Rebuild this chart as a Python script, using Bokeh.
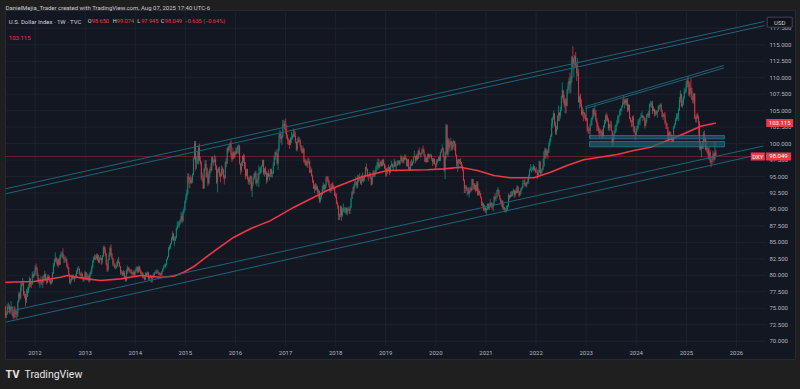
import pandas as pd
from bokeh.plotting import figure
from bokeh.models import Range1d
from bokeh.core.properties import value
from bokeh.embed import file_html
from bokeh.resources import INLINE

# ---------------- DATA: weekly DXY candles (week starting Monday), 2011-05-30 .. 2025-08-04
c2011 = [73.9, 74.2, 75.2, 75.3, 74.4, 75.0, 75.2, 74.2, 73.7, 74.7, 74.6, 74.1, 74.3, 76.0, 77.2, 76.6, 78.2, 78.6, 78.8, 77.1, 76.9, 76.2, 76.8, 77.6, 78.2, 79.5, 78.7, 78.6, 80.1, 79.9, 80.2]
h2011 = [75.2, 74.5, 75.6, 75.9, 75.6, 75.3, 76.1, 75.3, 74.4, 75.3, 75.3, 74.8, 74.6, 76.2, 77.5, 77.5, 78.9, 79.0, 79.6, 78.9, 77.6, 77.2, 77.9, 78.2, 78.7, 79.8, 79.6, 79.1, 80.6, 80.3, 80.7]
l2011 = [73.5, 73.5, 74.0, 74.9, 74.2, 74.1, 74.8, 73.9, 73.4, 73.3, 73.6, 73.5, 73.4, 73.7, 75.9, 76.2, 76.4, 77.6, 78.4, 76.9, 76.5, 75.3, 75.8, 76.7, 77.3, 78.0, 78.2, 78.1, 78.7, 79.6, 79.7]

c2012 = [81.2, 81.1, 80.1, 79.1, 79.0, 79.0, 79.1, 78.9, 79.8, 79.7, 80.2, 79.5, 78.9, 79.8, 79.6, 79.2, 78.8, 79.0, 80.3, 81.5, 82.2, 82.6, 82.1, 81.6, 82.3, 81.6, 82.9, 83.2, 83.3, 82.7, 82.4, 82.5, 82.5, 81.4, 81.2, 80.1, 78.9, 79.3, 79.9, 79.6, 79.7, 79.6, 79.9, 80.6, 81.0, 81.0, 80.2, 80.1, 80.2, 79.6, 79.4, 79.6, 80.5]
h2012 = [81.5, 81.8, 81.3, 80.3, 79.6, 79.5, 79.9, 79.4, 79.9, 80.1, 80.7, 80.3, 79.7, 80.1, 80.1, 79.9, 79.4, 79.4, 80.5, 81.9, 82.5, 83.5, 82.8, 82.5, 82.6, 82.7, 83.2, 83.6, 83.6, 84.1, 83.1, 82.8, 82.9, 82.5, 81.8, 81.3, 80.2, 79.5, 80.1, 80.1, 80.1, 79.8, 80.2, 80.8, 81.2, 81.4, 81.1, 80.4, 80.6, 80.4, 79.8, 79.8, 80.7]
l2012 = [80.0, 80.8, 79.9, 78.9, 78.6, 78.1, 78.6, 78.5, 78.1, 78.9, 79.4, 79.2, 78.6, 78.8, 79.2, 78.9, 78.6, 78.6, 78.9, 80.2, 81.3, 82.0, 81.8, 81.4, 81.2, 81.5, 81.8, 82.6, 82.8, 82.5, 81.9, 81.9, 82.1, 81.2, 80.9, 79.9, 78.7, 78.6, 79.0, 79.3, 79.4, 79.0, 79.4, 79.8, 80.2, 80.8, 80.1, 79.9, 79.6, 79.4, 79.0, 79.1, 79.3]

c2013 = [79.6, 79.7, 79.9, 79.1, 80.2, 80.5, 81.3, 82.2, 82.7, 82.5, 82.6, 83.0, 82.5, 82.0, 82.5, 82.6, 82.3, 82.9, 84.2, 83.9, 83.2, 81.7, 80.8, 82.3, 83.1, 84.2, 83.2, 82.6, 81.7, 81.7, 81.2, 81.2, 81.4, 82.2, 82.0, 81.4, 80.4, 80.4, 80.2, 80.4, 79.7, 79.2, 80.7, 81.1, 80.9, 80.7, 80.7, 80.3, 80.2, 80.5, 80.0, 80.7]
h2013 = [80.4, 80.3, 80.2, 80.0, 80.5, 80.8, 81.5, 82.3, 82.9, 83.2, 83.1, 83.3, 83.3, 83.1, 82.8, 83.1, 82.7, 83.1, 84.5, 84.5, 84.3, 83.4, 81.8, 82.5, 83.5, 84.4, 84.7, 83.4, 82.7, 82.4, 81.9, 81.6, 82.1, 82.5, 82.8, 82.0, 81.4, 80.8, 80.6, 80.8, 80.7, 79.9, 80.9, 81.5, 81.3, 81.2, 80.9, 81.0, 80.5, 80.8, 80.6, 80.9]
l2013 = [79.4, 79.2, 79.3, 78.9, 79.2, 79.9, 80.2, 81.0, 81.9, 82.3, 82.3, 82.4, 82.2, 81.9, 81.8, 82.3, 81.6, 81.8, 82.8, 83.4, 82.9, 81.5, 80.5, 80.6, 82.3, 82.8, 82.9, 82.4, 81.4, 81.3, 81.0, 80.9, 81.1, 81.3, 81.8, 81.2, 80.1, 80.1, 79.9, 79.9, 79.5, 79.0, 79.1, 80.2, 80.6, 80.4, 80.4, 80.2, 79.8, 80.0, 79.9, 79.8]

c2014 = [80.7, 81.2, 80.5, 81.3, 80.7, 80.3, 80.2, 79.7, 79.7, 79.4, 80.3, 80.1, 80.4, 79.5, 79.9, 79.8, 79.5, 79.6, 80.0, 80.4, 80.4, 80.5, 80.6, 80.4, 80.1, 80.3, 80.1, 80.6, 81.0, 81.4, 81.4, 81.6, 82.4, 82.8, 84.1, 84.3, 84.8, 85.6, 86.3, 85.3, 85.3, 85.7, 87.1, 87.6, 87.6, 88.0, 88.4, 89.0, 88.3, 89.6, 90.0, 91.2]
h2014 = [81.2, 81.4, 81.3, 81.5, 81.4, 80.9, 80.6, 80.5, 80.3, 79.8, 80.5, 80.4, 80.6, 80.5, 80.0, 80.1, 80.0, 79.9, 80.3, 80.5, 80.7, 80.9, 80.9, 80.8, 80.5, 80.4, 80.4, 80.7, 81.1, 81.6, 81.8, 81.8, 82.5, 82.9, 84.3, 84.6, 84.9, 85.8, 86.7, 86.4, 85.9, 86.0, 87.3, 88.2, 88.2, 88.3, 88.5, 89.6, 89.4, 89.9, 90.3, 91.4]
l2014 = [80.3, 80.6, 80.3, 80.4, 80.6, 80.2, 79.9, 79.6, 79.5, 79.2, 79.3, 79.8, 80.0, 79.3, 79.3, 79.6, 78.9, 78.9, 79.6, 79.9, 80.2, 80.2, 80.3, 80.2, 80.0, 79.9, 79.9, 80.0, 80.5, 80.9, 81.2, 81.1, 81.5, 82.3, 82.7, 83.8, 84.0, 84.7, 85.3, 85.2, 84.5, 85.2, 85.6, 86.9, 87.3, 87.2, 87.7, 88.2, 87.9, 88.1, 89.4, 89.8]

c2015 = [91.9, 92.5, 95.0, 94.8, 94.6, 94.1, 94.4, 95.3, 97.7, 100.0, 97.3, 97.3, 97.4, 99.4, 97.5, 97.0, 94.8, 94.8, 93.2, 96.2, 96.9, 96.3, 94.9, 94.0, 95.4, 96.1, 96.0, 97.9, 97.2, 97.3, 97.6, 96.6, 94.1, 95.9, 96.2, 95.2, 95.1, 96.2, 96.0, 95.0, 94.8, 97.1, 97.0, 99.3, 99.0, 99.6, 100.0, 98.4, 97.6, 98.7, 98.0, 98.7]
h2015 = [92.3, 93.0, 95.5, 95.5, 94.9, 95.2, 94.9, 95.5, 97.9, 100.4, 100.4, 98.0, 98.7, 99.8, 100.0, 98.0, 97.3, 95.6, 95.2, 96.3, 97.5, 97.5, 96.4, 95.6, 95.9, 96.4, 97.0, 98.0, 98.1, 97.6, 98.3, 98.0, 96.7, 96.2, 96.4, 96.5, 95.6, 96.7, 96.5, 96.2, 95.2, 97.3, 97.8, 99.4, 99.6, 99.9, 100.2, 100.5, 98.6, 99.4, 98.8, 98.9]
l2015 = [90.9, 91.5, 92.2, 94.0, 93.2, 93.9, 93.9, 94.0, 95.2, 97.6, 95.9, 96.2, 96.9, 96.8, 97.3, 96.8, 94.5, 94.2, 93.1, 93.2, 95.9, 94.9, 94.7, 93.5, 93.8, 94.8, 95.6, 95.8, 96.9, 96.6, 97.1, 96.0, 93.9, 92.6, 95.6, 94.9, 94.1, 95.0, 95.3, 94.7, 93.8, 94.6, 96.4, 96.9, 98.6, 98.8, 99.3, 97.9, 97.2, 97.6, 97.7, 97.8]

c2016 = [98.5, 99.0, 99.6, 99.6, 97.0, 96.0, 96.6, 98.1, 97.4, 96.2, 95.1, 96.1, 94.6, 94.2, 94.7, 95.1, 93.1, 93.9, 94.6, 95.3, 95.5, 94.0, 94.5, 94.6, 95.5, 95.6, 96.3, 96.6, 97.5, 95.5, 96.2, 95.7, 94.5, 95.5, 95.1, 95.3, 96.1, 95.4, 95.4, 96.6, 98.0, 98.7, 98.4, 97.0, 99.0, 101.2, 101.5, 100.7, 101.0, 103.0, 103.0, 102.2]
h2016 = [99.4, 99.4, 99.8, 99.9, 99.8, 97.0, 97.3, 98.2, 98.5, 98.3, 97.2, 96.2, 96.2, 95.0, 94.9, 95.2, 95.0, 94.1, 94.9, 95.5, 95.8, 95.9, 94.6, 95.5, 96.7, 96.4, 96.5, 96.8, 97.6, 97.5, 96.3, 96.5, 95.8, 95.6, 96.1, 95.5, 96.2, 96.2, 95.8, 97.2, 98.2, 98.8, 99.1, 98.4, 99.3, 101.5, 102.1, 101.8, 101.2, 103.6, 103.6, 103.4]
l2016 = [98.2, 98.5, 98.5, 98.4, 96.8, 95.3, 95.7, 96.6, 97.1, 96.1, 94.6, 95.0, 94.5, 93.8, 93.7, 93.9, 92.8, 91.9, 93.6, 94.5, 94.9, 93.8, 93.5, 94.0, 93.4, 95.3, 95.4, 95.6, 96.5, 95.2, 95.0, 95.3, 93.9, 94.2, 94.9, 94.4, 94.9, 94.9, 94.8, 95.5, 96.6, 97.5, 98.2, 96.8, 96.0, 98.8, 100.8, 100.1, 99.8, 100.9, 102.5, 102.1]

c2017 = [102.0, 101.2, 100.6, 100.5, 99.8, 100.8, 100.9, 101.1, 101.4, 101.2, 100.3, 99.1, 100.3, 100.6, 100.5, 99.8, 99.0, 98.6, 99.2, 97.2, 97.4, 96.7, 97.3, 97.1, 97.3, 95.6, 96.0, 95.1, 94.3, 93.2, 93.5, 93.1, 93.4, 92.7, 92.8, 91.3, 91.9, 92.2, 93.1, 93.7, 93.1, 93.7, 94.9, 94.8, 94.4, 93.7, 92.8, 93.1, 93.9, 93.4, 93.3, 92.1]
h2017 = [103.8, 102.9, 101.4, 100.8, 100.6, 101.0, 101.8, 101.5, 102.3, 102.2, 101.8, 100.3, 100.8, 101.1, 101.0, 100.7, 99.8, 99.4, 99.7, 99.3, 97.7, 97.6, 97.4, 97.9, 97.8, 97.4, 96.5, 96.2, 95.3, 94.5, 93.8, 94.0, 93.9, 93.6, 93.1, 92.9, 92.3, 92.6, 93.6, 94.1, 93.8, 93.9, 95.0, 95.1, 95.1, 94.5, 93.9, 93.5, 94.0, 94.2, 93.7, 93.2]
l2017 = [101.4, 100.7, 99.9, 99.8, 99.2, 99.9, 100.1, 100.6, 100.9, 101.0, 100.1, 98.9, 98.8, 100.1, 100.2, 99.4, 98.8, 98.5, 98.6, 97.1, 96.8, 96.6, 96.5, 96.3, 96.9, 95.5, 95.6, 95.0, 94.0, 93.1, 92.5, 92.9, 92.9, 92.4, 91.6, 91.0, 91.0, 91.5, 92.4, 92.9, 92.8, 92.9, 93.3, 94.2, 94.0, 93.4, 92.6, 92.5, 92.8, 93.1, 92.9, 92.0]

c2018 = [91.9, 90.9, 90.6, 89.1, 89.2, 90.4, 89.1, 89.9, 90.1, 90.1, 90.2, 89.5, 90.1, 90.1, 89.8, 90.3, 91.6, 92.6, 92.5, 93.6, 94.2, 94.2, 93.6, 94.8, 94.5, 94.5, 94.0, 94.7, 94.4, 94.7, 95.1, 96.4, 96.1, 95.2, 95.1, 95.4, 94.9, 93.8, 95.1, 95.6, 95.2, 95.7, 96.4, 96.5, 97.0, 96.5, 96.8, 97.2, 96.6, 97.5, 96.9, 96.3, 95.8]
h2018 = [92.6, 92.4, 91.2, 90.6, 89.4, 90.6, 90.5, 90.2, 90.9, 90.3, 90.4, 90.3, 90.2, 90.5, 90.1, 90.5, 91.8, 92.8, 93.4, 93.9, 94.4, 95.0, 94.2, 95.3, 95.2, 95.5, 94.9, 95.2, 95.6, 95.0, 95.3, 96.5, 97.0, 96.2, 95.3, 95.7, 95.6, 94.9, 95.2, 96.0, 95.9, 96.0, 96.7, 97.2, 97.7, 97.7, 97.2, 97.4, 97.5, 97.7, 97.7, 97.0, 96.7]
l2018 = [91.7, 90.8, 90.1, 88.4, 88.4, 88.8, 88.3, 88.9, 89.6, 89.5, 89.4, 89.2, 89.1, 89.8, 89.3, 89.3, 90.2, 91.6, 92.2, 92.4, 93.2, 93.7, 93.2, 93.2, 94.1, 94.3, 93.8, 93.7, 94.2, 94.1, 94.3, 95.1, 95.9, 94.9, 94.3, 94.9, 94.6, 93.6, 93.8, 94.9, 94.9, 94.9, 95.6, 96.0, 96.0, 96.3, 96.2, 96.6, 96.5, 96.7, 96.7, 96.1, 95.0]

c2019 = [95.6, 96.1, 96.4, 95.6, 96.6, 96.9, 96.5, 96.5, 97.3, 96.6, 96.6, 97.3, 97.4, 96.9, 97.4, 98.0, 97.5, 97.3, 98.0, 97.6, 97.8, 96.6, 97.6, 96.2, 96.1, 96.9, 96.8, 97.2, 98.0, 98.1, 97.5, 98.1, 97.7, 98.9, 98.4, 98.3, 98.5, 99.1, 98.8, 98.3, 97.3, 97.8, 97.2, 98.4, 98.0, 98.3, 98.3, 97.7, 97.2, 97.7, 96.9, 96.8]
h2019 = [96.3, 96.4, 96.8, 96.5, 96.7, 97.4, 97.0, 96.8, 97.7, 97.4, 96.8, 97.4, 97.5, 97.4, 97.5, 98.3, 98.1, 97.8, 98.0, 98.4, 98.3, 97.8, 97.6, 97.7, 96.5, 97.3, 97.6, 97.3, 98.0, 98.9, 98.0, 98.4, 98.5, 99.0, 99.4, 98.6, 98.7, 99.3, 99.7, 99.2, 98.4, 98.0, 97.9, 98.5, 98.5, 98.4, 98.5, 98.3, 97.8, 97.8, 97.7, 97.0]
l2019 = [95.0, 95.4, 95.8, 95.2, 95.5, 96.4, 96.3, 95.8, 96.4, 96.4, 95.7, 96.6, 96.8, 96.7, 96.7, 97.3, 97.1, 97.0, 97.0, 97.5, 97.5, 96.5, 96.5, 96.0, 95.8, 95.9, 96.6, 96.6, 97.0, 97.9, 97.0, 97.3, 97.5, 97.8, 98.3, 97.9, 97.9, 98.4, 98.7, 98.1, 97.2, 97.1, 97.1, 97.2, 97.8, 97.7, 98.0, 97.4, 96.6, 96.9, 96.8, 96.1]

c2020 = [97.3, 97.6, 97.9, 97.4, 98.7, 99.1, 99.3, 98.1, 96.0, 98.7, 102.8, 98.4, 100.6, 99.5, 99.8, 100.4, 99.1, 99.7, 100.4, 99.9, 98.3, 96.9, 97.3, 97.6, 97.4, 97.2, 96.6, 96.0, 94.4, 93.3, 93.4, 93.1, 93.2, 92.4, 92.7, 93.3, 92.9, 94.6, 93.9, 93.1, 93.7, 92.8, 94.0, 92.2, 92.8, 92.4, 91.8, 90.7, 90.9, 90.0, 90.3, 89.9]
h2020 = [97.6, 97.6, 98.0, 98.2, 98.8, 99.2, 99.9, 99.4, 98.0, 98.8, 103.0, 102.9, 100.9, 100.8, 100.2, 100.9, 100.4, 100.2, 100.6, 100.2, 100.0, 98.3, 97.6, 97.7, 97.6, 97.8, 97.1, 96.8, 96.1, 94.6, 93.7, 93.7, 93.3, 93.4, 93.0, 93.5, 93.3, 94.7, 94.5, 94.0, 94.0, 93.7, 94.3, 94.3, 93.2, 92.9, 92.5, 91.9, 91.2, 90.9, 90.7, 90.4]
l2020 = [96.4, 97.0, 97.3, 97.3, 97.4, 98.6, 99.0, 97.9, 95.7, 94.6, 97.6, 98.3, 98.0, 99.1, 98.8, 99.8, 98.9, 99.1, 99.5, 98.9, 98.1, 96.5, 95.7, 96.2, 96.9, 96.8, 96.3, 95.8, 94.3, 92.5, 92.5, 92.8, 92.1, 92.3, 91.8, 92.5, 92.7, 92.9, 93.6, 93.0, 92.9, 92.6, 92.8, 92.1, 92.1, 92.1, 91.7, 90.5, 90.4, 89.8, 89.7, 89.5]

c2021 = [90.1, 90.8, 90.2, 90.6, 91.0, 90.5, 90.4, 90.9, 91.9, 91.7, 91.9, 92.8, 93.0, 92.2, 91.6, 90.9, 91.3, 90.2, 90.3, 90.0, 90.0, 90.1, 90.6, 92.2, 91.8, 92.2, 92.1, 92.7, 92.9, 92.2, 92.8, 92.5, 93.5, 92.7, 92.1, 92.6, 93.2, 93.3, 94.0, 94.1, 93.9, 93.6, 94.1, 94.3, 95.1, 96.0, 96.1, 96.1, 96.1, 96.6, 96.0, 95.7]
h2021 = [90.2, 90.9, 90.9, 91.0, 91.6, 91.1, 91.0, 91.0, 92.1, 92.5, 92.0, 93.0, 93.4, 93.0, 92.2, 91.7, 91.4, 91.4, 90.9, 90.4, 90.2, 90.6, 90.7, 92.4, 92.1, 92.7, 92.8, 92.8, 93.2, 93.0, 92.9, 93.2, 93.7, 93.5, 92.8, 92.9, 93.3, 93.5, 94.5, 94.5, 94.6, 94.1, 94.2, 94.6, 95.3, 96.2, 96.9, 96.5, 96.4, 96.9, 96.6, 96.3]
l2021 = [89.2, 89.9, 90.0, 89.9, 90.4, 90.2, 90.1, 89.7, 90.6, 91.4, 91.3, 91.8, 92.7, 92.0, 91.4, 90.7, 90.4, 90.0, 89.9, 89.6, 89.5, 89.6, 89.8, 90.4, 91.5, 91.8, 91.9, 92.0, 92.4, 91.8, 91.9, 92.4, 92.5, 92.6, 91.9, 92.1, 92.3, 92.9, 93.2, 93.8, 93.5, 93.5, 93.3, 93.9, 93.9, 95.0, 95.9, 95.6, 95.9, 95.8, 95.9, 95.5]

c2022 = [95.7, 95.2, 95.6, 97.3, 95.5, 96.0, 96.1, 96.6, 98.7, 99.1, 98.2, 98.8, 98.6, 99.8, 100.5, 101.1, 103.0, 103.7, 104.6, 103.0, 101.7, 102.2, 104.2, 104.7, 104.2, 105.1, 107.0, 108.1, 106.7, 105.9, 106.6, 105.7, 108.2, 108.8, 109.5, 109.0, 109.8, 113.2, 112.1, 112.8, 113.3, 111.9, 110.7, 110.8, 106.3, 107.0, 106.0, 104.5, 104.8, 104.7, 104.3, 103.5]
h2022 = [96.4, 96.0, 96.0, 97.4, 97.3, 96.1, 96.3, 97.7, 98.9, 99.4, 99.3, 99.2, 99.0, 100.2, 100.8, 101.4, 103.9, 104.1, 105.0, 104.6, 103.3, 102.7, 104.3, 105.8, 104.8, 105.6, 107.3, 109.3, 108.1, 107.4, 106.9, 106.9, 108.3, 109.3, 110.0, 110.8, 110.3, 113.3, 114.8, 113.0, 113.5, 113.9, 112.4, 113.0, 111.3, 107.3, 107.6, 106.7, 105.6, 105.2, 104.8, 104.5]
l2022 = [95.6, 94.6, 94.9, 95.6, 95.1, 95.1, 95.5, 95.9, 96.5, 97.7, 97.7, 98.1, 97.7, 98.6, 99.6, 100.2, 101.0, 102.4, 103.6, 102.6, 101.4, 101.3, 102.1, 103.4, 103.4, 103.8, 104.9, 106.9, 106.2, 105.5, 104.6, 104.6, 105.9, 107.6, 108.0, 107.6, 107.7, 109.3, 111.5, 110.1, 111.6, 111.6, 109.5, 110.2, 106.2, 105.3, 105.6, 104.3, 104.1, 103.4, 103.8, 103.4]

c2023 = [103.9, 102.2, 102.0, 101.9, 102.9, 103.6, 103.9, 105.2, 104.5, 104.6, 103.6, 103.1, 102.5, 101.9, 101.6, 101.8, 101.7, 101.2, 102.7, 103.2, 104.2, 104.0, 103.6, 102.3, 102.9, 102.9, 101.9, 99.9, 101.1, 101.6, 102.0, 102.8, 103.4, 104.1, 104.2, 105.0, 105.3, 105.6, 106.2, 106.1, 106.6, 106.2, 106.6, 105.1, 105.9, 103.9, 103.4, 103.3, 104.0, 102.6, 101.7, 101.3]
h2023 = [105.6, 103.9, 102.6, 102.4, 103.0, 103.9, 104.1, 105.3, 105.4, 105.9, 105.1, 103.9, 103.3, 102.7, 102.3, 102.2, 102.0, 102.2, 102.8, 103.6, 104.4, 104.7, 104.4, 103.9, 103.0, 103.5, 103.4, 102.0, 101.2, 102.0, 102.8, 103.0, 103.6, 104.4, 104.3, 105.2, 105.4, 105.8, 106.8, 107.3, 106.8, 106.8, 106.9, 106.9, 106.0, 105.8, 104.0, 103.6, 104.2, 104.3, 102.7, 101.8]
l2023 = [103.8, 101.8, 101.5, 101.5, 100.8, 102.6, 102.8, 103.7, 104.1, 104.1, 103.3, 101.9, 101.9, 101.4, 100.8, 101.3, 100.8, 100.8, 101.0, 102.4, 103.0, 103.4, 103.3, 102.0, 101.9, 102.4, 101.9, 99.6, 99.6, 100.6, 101.5, 101.8, 102.6, 103.0, 103.1, 104.2, 104.4, 104.9, 105.5, 105.9, 105.3, 105.9, 105.7, 104.8, 104.9, 103.7, 103.2, 102.5, 102.6, 101.8, 101.6, 100.6]

c2024 = [102.4, 102.4, 103.3, 103.4, 103.9, 104.1, 104.3, 103.9, 103.9, 102.7, 103.4, 104.4, 104.5, 104.3, 106.0, 106.1, 106.1, 105.0, 105.3, 104.5, 104.7, 104.6, 104.9, 105.6, 105.8, 105.9, 104.9, 104.1, 104.4, 104.3, 103.2, 103.1, 102.5, 100.7, 101.7, 101.2, 101.1, 100.7, 100.4, 102.5, 102.9, 103.5, 104.3, 104.3, 105.0, 106.7, 107.5, 105.7, 106.0, 107.0, 107.8, 108.0, 109.0]
h2024 = [102.7, 102.7, 103.7, 103.8, 104.0, 104.6, 104.9, 104.3, 104.2, 104.0, 103.6, 104.5, 104.7, 105.0, 106.1, 106.5, 106.4, 106.5, 105.7, 105.3, 105.1, 105.1, 105.0, 105.8, 105.9, 106.1, 106.1, 105.2, 104.6, 104.6, 104.8, 103.5, 103.1, 102.4, 101.8, 101.9, 101.8, 101.4, 101.1, 102.7, 103.1, 103.9, 104.6, 104.6, 105.4, 107.1, 108.1, 107.6, 106.7, 107.2, 108.5, 108.3, 109.5]
l2024 = [101.3, 101.8, 102.1, 102.9, 102.8, 103.9, 103.9, 103.4, 103.6, 102.3, 102.6, 103.1, 104.0, 103.9, 103.9, 105.6, 105.4, 104.5, 104.9, 104.1, 104.2, 104.4, 103.9, 104.8, 105.1, 105.4, 104.8, 104.0, 103.6, 104.0, 102.9, 102.2, 102.2, 100.6, 100.5, 100.9, 100.8, 100.2, 100.2, 100.2, 102.3, 102.8, 103.4, 103.7, 103.4, 105.0, 106.2, 105.6, 105.4, 105.8, 106.7, 107.6, 107.8]

c2025 = [109.6, 109.4, 107.4, 108.4, 108.0, 106.7, 106.6, 107.6, 103.8, 103.7, 104.1, 104.0, 103.0, 100.1, 99.2, 99.6, 100.0, 101.4, 100.9, 99.1, 99.3, 99.2, 98.2, 98.7, 97.4, 97.2, 97.9, 98.5, 97.6, 98.684, 98.049]
h2025 = [109.9, 110.2, 109.4, 109.0, 109.9, 108.5, 107.3, 107.7, 107.6, 104.3, 104.5, 104.7, 104.3, 103.4, 100.3, 99.9, 100.4, 101.8, 102.0, 101.1, 100.5, 99.5, 99.4, 99.4, 99.0, 97.5, 98.1, 98.9, 98.6, 100.25, 99.074]
l2025 = [108.5, 108.6, 107.2, 107.0, 107.6, 106.6, 106.1, 106.1, 103.7, 103.2, 103.2, 103.8, 101.3, 99.0, 99.0, 97.9, 99.2, 99.2, 100.3, 99.0, 98.7, 98.4, 97.6, 97.6, 97.0, 96.4, 96.8, 97.6, 97.1, 97.6, 97.945]

first_open = 75.3
last_open = 98.650
last_week = "2025-08-04"

# 200-week moving average: decimal year, value
ma_year = [2011.41, 2011.98, 2012.51, 2012.64, 2013.04, 2013.31, 2013.71, 2014.11, 2014.51, 2014.77,
           2014.97, 2015.17, 2015.37, 2015.64, 2015.97, 2016.30, 2016.50, 2016.70, 2017.17, 2017.83,
           2018.50, 2019.03, 2019.83, 2020.16, 2020.49, 2020.83, 2021.16, 2021.49, 2021.96, 2022.29,
           2022.62, 2022.95, 2023.62, 2023.95, 2024.29, 2024.62, 2024.95, 2025.29, 2025.59]
ma_val = [78.96, 79.06, 79.72, 79.98, 79.47, 79.22, 79.47, 79.98, 79.72, 79.87,
          80.48, 81.34, 82.51, 84.03, 85.79, 87.07, 87.7, 88.3, 90.35, 92.88,
          94.9, 95.92, 96.02, 96.17, 96.42, 95.92, 95.16, 94.81, 94.81, 95.66,
          96.68, 97.54, 98.35, 98.95, 99.45, 100.47, 101.49, 102.64, 103.115]

# trend lines: (start year, start price, end year, end price)
channel_upper = [(2011.411, 93.14, 2026.561, 118.54), (2011.411, 92.38, 2026.561, 117.93)]
channel_lower = [(2011.411, 74.41, 2026.541, 99.64), (2011.411, 72.89, 2026.541, 98.48)]
channel_mid = [(2022.988, 105.63, 2025.749, 111.86), (2022.988, 105.33, 2025.749, 111.48)]
# support zones: start year, end year, top, bottom
zone_start = [2023.068, 2023.068]
zone_end = [2025.763, 2025.763]
zone_top = [101.22, 100.32]
zone_bottom = [100.72, 99.51]

price_ticks = [70.0, 72.5, 75.0, 77.5, 80.0, 82.5, 85.0, 87.5, 90.0, 92.5, 95.0, 97.5,
               100.0, 102.5, 105.0, 107.5, 110.0, 112.5, 115.0, 117.5]
year_ticks = [2012, 2013, 2014, 2015, 2016, 2017, 2018, 2019, 2020, 2021, 2022, 2023, 2024, 2025, 2026]

# ---------------- assemble candles
close = c2011 + c2012 + c2013 + c2014 + c2015 + c2016 + c2017 + c2018 + c2019 + c2020 + c2021 + c2022 + c2023 + c2024 + c2025
high = h2011 + h2012 + h2013 + h2014 + h2015 + h2016 + h2017 + h2018 + h2019 + h2020 + h2021 + h2022 + h2023 + h2024 + h2025
low = l2011 + l2012 + l2013 + l2014 + l2015 + l2016 + l2017 + l2018 + l2019 + l2020 + l2021 + l2022 + l2023 + l2024 + l2025
n = min(len(close), len(high), len(low))
close, high, low = close[-n:], high[-n:], low[-n:]
opens = [first_open] + close[:-1]
opens[-1] = last_open
dates = pd.date_range(end=last_week, periods=n, freq="W-MON")
hi = [max(h, o, c) for h, o, c in zip(high, opens, close)]
lo = [min(l, o, c) for l, o, c in zip(low, opens, close)]

UP, DOWN = "#089981", "#f23645"
FONT = "Roboto"
BG_OUT, BG_PANEL = "#1f1f1f", "#131722"

# ---------------- pixel <-> data helpers (layout)
T0 = pd.Timestamp("2012-01-01")
X0, PX_YEAR = 34.5, 50.1
Y0_PRICE, Y0_PX, PX_UNIT = 115.0, 44.3, 6.587


def tx(px):
    return T0 + pd.Timedelta(days=(px - X0) / PX_YEAR * 365.25)


def yr(t):
    return T0 + pd.Timedelta(days=(t - 2012) * 365.25)


def pv(py):
    return Y0_PRICE - (py - Y0_PX) / PX_UNIT


p = figure(width=800, height=389, x_range=Range1d(tx(0), tx(800)), y_range=Range1d(pv(389), pv(0)),
           output_backend="svg", toolbar_location=None, x_axis_location=None, y_axis_location=None,
           min_border=0, title=None)
p.background_fill_color = BG_OUT
p.border_fill_color = BG_OUT
p.outline_line_color = None
p.grid.visible = False

# panel
p.quad(left=[tx(5)], right=[tx(795)], top=[pv(10)], bottom=[pv(359)], fill_color=BG_PANEL,
       line_color="#262a35", line_width=1)

# grid
ygrid_t = [pd.Timestamp(f"{y}-01-01") for y in year_ticks]
p.segment(x0=ygrid_t, x1=ygrid_t, y0=[pv(10)] * len(ygrid_t), y1=[pv(346)] * len(ygrid_t),
          line_color="#1e222d", line_width=1)
p.segment(x0=[tx(5)] * len(price_ticks), x1=[tx(765)] * len(price_ticks), y0=price_ticks, y1=price_ticks,
          line_color="#1e222d", line_width=1)

# candles
up_idx = [i for i in range(n) if close[i] >= opens[i]]
dn_idx = [i for i in range(n) if close[i] < opens[i]]
W = 5 * 24 * 3600 * 1000
for idx, col in ((up_idx, UP), (dn_idx, DOWN)):
    xs = [dates[i] for i in idx]
    p.segment(x0=xs, x1=xs, y0=[lo[i] for i in idx], y1=[hi[i] for i in idx], line_color=col, line_width=0.7)
    p.vbar(x=xs, width=W, top=[max(opens[i], close[i]) for i in idx],
           bottom=[min(opens[i], close[i]) for i in idx], fill_color=col, line_color=None)

# current price line
p.segment(x0=[tx(5)], x1=[tx(750)], y0=[close[-1]], y1=[close[-1]], line_color=DOWN, line_alpha=0.35, line_width=1)

# moving average
p.line(x=[yr(t) for t in ma_year], y=ma_val, line_color="#f23645", line_width=1.6)

# trend lines
LINE_C = "#1e6577"
for grp in (channel_upper, channel_lower, channel_mid):
    p.segment(x0=[yr(a) for a, _, _, _ in grp], y0=[b for _, b, _, _ in grp],
              x1=[yr(c) for _, _, c, _ in grp], y1=[d for _, _, _, d in grp],
              line_color=LINE_C, line_width=1)

# zones
p.quad(left=[yr(t) for t in zone_start], right=[yr(t) for t in zone_end], top=zone_top, bottom=zone_bottom,
       fill_color="#1c6070", fill_alpha=0.7, line_color="#2a8a9a", line_width=0.8, line_alpha=0.8)


def txt(px, y, s, color, size="6px", align="left", style="normal", font=FONT):
    p.text(x=[tx(px)], y=[y], text=[s], text_color=color, text_font=value(font), text_font_size=size,
           text_align=align, text_baseline="middle", text_font_style=style)


# price axis labels
for v in price_ticks:
    txt(769, v, f"{v:.3f}", "#b2b5be")
# time axis labels
for y, t in zip(year_ticks, ygrid_t):
    p.text(x=[t], y=[pv(352.5)], text=[str(y)], text_color="#b2b5be", text_font=value(FONT),
           text_font_size="6px", text_align="center", text_baseline="middle")


def tag(px, y, w, h, fill, line=None):
    p.rect(x=[tx(px)], y=[y], width=w, height=h, width_units="screen", height_units="screen",
           fill_color=fill, line_color=line, line_width=1)


# USD badge
tag(779.2, pv(21.7), 25, 10, "#0f1118", "#434651")
txt(779.2, pv(21.7), "USD", "#d1d4dc", align="center")
# MA value tag
tag(779.2, ma_val[-1], 27, 8, DOWN)
txt(779.2, ma_val[-1], f"{ma_val[-1]:.3f}", "#ffffff", align="center")
# price tags
tag(757.3, close[-1], 14, 8, DOWN)
txt(757.3, close[-1], "DXY", "#ffffff", align="center")
tag(778.0, close[-1], 25, 8, DOWN)
txt(778.0, close[-1], f"{close[-1]:.3f}", "#ffffff", align="center")

# header
txt(5, pv(6.7), "DanielMejia_Trader created with TradingView.com, Aug 07, 2025 17:40 UTC-6", "#c8cacf")

# legend
chg = close[-1] - close[-2]
pct = chg / close[-2] * 100
LY = pv(20.7)
txt(8.3, LY, "U.S. Dollar Index · 1W · TVC", "#d1d4dc")
for lab, val, x in (("O", last_open, 87.3), ("H", hi[-1], 112.3), ("L", lo[-1], 136.7), ("C", close[-1], 160.3)):
    txt(x, LY, lab, "#d1d4dc", size="5.6px")
    txt(x + 4.0, LY, f"{val:.3f}", DOWN, size="5.6px")
sign = "\u2212" if chg < 0 else "+"
txt(184.0, LY, f"{sign}{abs(chg):.3f} ({sign}{abs(pct):.2f}%)", DOWN, size="5.6px")
txt(8.3, pv(37.3), f"{ma_val[-1]:.3f}", DOWN)

# footer logo
txt(5, pv(373.5), "TV", "#e6e6e6", size="10px", style="bold", font="Inter")
txt(24, pv(374), "TradingView", "#e6e6e6", size="10.5px")

html = file_html(p, INLINE, title="DXY weekly")
html = html.replace("<head>", "<head><style>html,body{margin:0;padding:0;overflow:hidden;background:#1f1f1f;}</style>", 1)
open("out.html", "w").write(html)
